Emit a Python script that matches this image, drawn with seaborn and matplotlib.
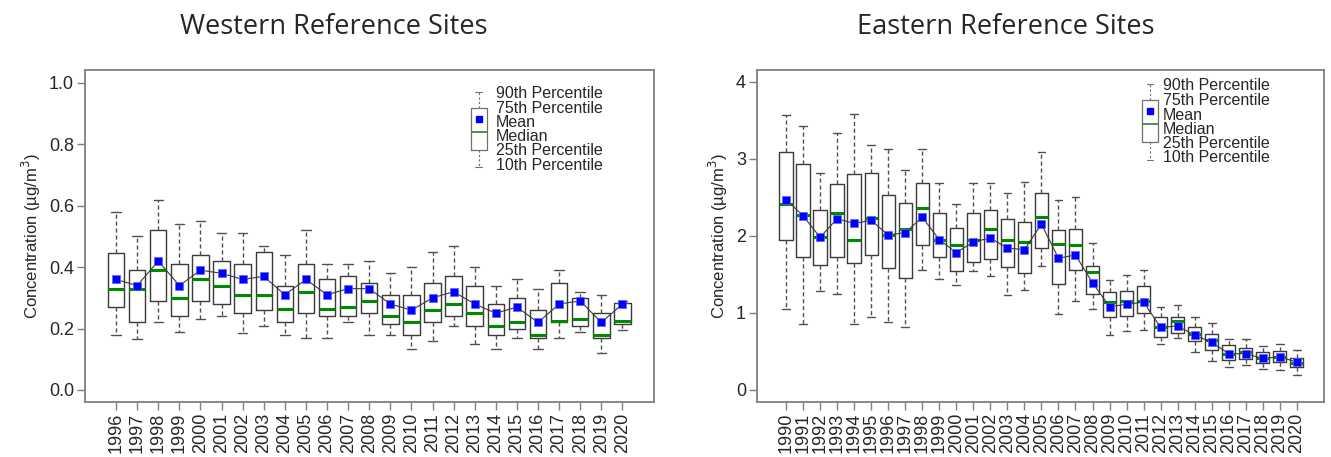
import numpy as np
import pandas as pd
import matplotlib
matplotlib.use('Agg')
import matplotlib.pyplot as plt
import seaborn as sns

# Dane (percentyle i srednie)
west_years = [str(y) for y in range(1996, 2021)]
west_p90 = [0.58, 0.50, 0.62, 0.54, 0.55, 0.51, 0.51, 0.47, 0.44, 0.52, 0.41, 0.41, 0.42,
            0.38, 0.40, 0.45, 0.47, 0.40, 0.34, 0.36, 0.33, 0.39, 0.32, 0.31, 0.29]
west_p75 = [0.445, 0.39, 0.52, 0.41, 0.44, 0.42, 0.41, 0.45, 0.34, 0.41, 0.36, 0.37, 0.35,
            0.31, 0.31, 0.35, 0.37, 0.34, 0.28, 0.30, 0.26, 0.35, 0.30, 0.25, 0.284]
west_mean = [0.36, 0.34, 0.42, 0.34, 0.39, 0.38, 0.36, 0.37, 0.31, 0.36, 0.31, 0.33, 0.33,
             0.28, 0.26, 0.30, 0.32, 0.28, 0.25, 0.27, 0.22, 0.28, 0.29, 0.22, 0.28]
west_median = [0.33, 0.33, 0.39, 0.30, 0.36, 0.34, 0.31, 0.31, 0.265, 0.32, 0.265, 0.27, 0.29,
               0.24, 0.22, 0.26, 0.28, 0.25, 0.21, 0.22, 0.18, 0.225, 0.23, 0.18, 0.225]
west_p25 = [0.27, 0.22, 0.29, 0.24, 0.29, 0.28, 0.25, 0.26, 0.22, 0.25, 0.24, 0.24, 0.25,
            0.215, 0.18, 0.22, 0.24, 0.21, 0.18, 0.20, 0.17, 0.22, 0.21, 0.17, 0.215]
west_p10 = [0.18, 0.165, 0.22, 0.19, 0.23, 0.24, 0.185, 0.21, 0.18, 0.17, 0.17, 0.22, 0.18,
            0.18, 0.135, 0.16, 0.21, 0.15, 0.135, 0.17, 0.135, 0.17, 0.19, 0.12, 0.195]

east_years = [str(y) for y in range(1990, 2021)]
east_p90 = [3.57, 3.42, 2.82, 3.33, 3.58, 3.18, 3.12, 2.85, 3.12, 2.69, 2.41, 2.69, 2.69, 2.56,
            2.70, 3.08, 2.46, 2.50, 1.90, 1.42, 1.49, 1.55, 1.07, 1.10, 0.95, 0.87, 0.66, 0.66,
            0.57, 0.60, 0.52]
east_p75 = [3.08, 2.93, 2.33, 2.67, 2.80, 2.81, 2.53, 2.42, 2.69, 2.30, 2.10, 2.30, 2.33, 2.22,
            2.18, 2.56, 2.08, 2.09, 1.61, 1.27, 1.28, 1.35, 0.94, 0.95, 0.81, 0.72, 0.58, 0.55,
            0.49, 0.50, 0.42]
east_mean = [2.47, 2.26, 1.98, 2.22, 2.16, 2.20, 2.01, 2.04, 2.24, 1.95, 1.78, 1.92, 1.97, 1.84,
             1.82, 2.15, 1.71, 1.75, 1.39, 1.08, 1.11, 1.14, 0.81, 0.83, 0.71, 0.62, 0.47, 0.47,
             0.41, 0.43, 0.36]
east_median = [2.41, 2.27, 1.98, 2.30, 1.95, 2.23, 2.01, 2.09, 2.36, 1.95, 1.88, 1.94, 2.09, 1.95,
               1.92, 2.24, 1.89, 1.88, 1.53, 1.14, 1.15, 1.15, 0.82, 0.89, 0.73, 0.65, 0.47, 0.49,
               0.41, 0.43, 0.35]
east_p25 = [1.94, 1.73, 1.62, 1.73, 1.65, 1.75, 1.58, 1.45, 1.88, 1.72, 1.54, 1.66, 1.70, 1.59,
            1.52, 1.84, 1.37, 1.55, 1.25, 0.95, 0.96, 1.00, 0.69, 0.74, 0.63, 0.52, 0.39, 0.40,
            0.35, 0.36, 0.30]
east_p10 = [1.05, 0.86, 1.28, 1.25, 0.86, 0.94, 0.88, 0.82, 1.56, 1.44, 1.36, 1.54, 1.48, 1.23,
            1.30, 1.61, 0.99, 1.16, 1.05, 0.71, 0.77, 0.78, 0.59, 0.68, 0.49, 0.38, 0.30, 0.33,
            0.27, 0.26, 0.20]

legend_labels = ['90th Percentile', '75th Percentile', 'Mean', 'Median',
                 '25th Percentile', '10th Percentile']

sns.set_style('white')
plt.rcParams['font.family'] = ['Liberation Sans', 'DejaVu Sans']

BOX_C = '#3a3a3a'
WHISK_C = '#505050'
MED_C = '#008a00'
MEAN_C = '#0000ff'
SPINE_C = '#808080'

box_kw = dict(
    boxprops=dict(color=BOX_C, linewidth=1.0),
    whiskerprops=dict(color=WHISK_C, linewidth=1.0, linestyle=(0, (3, 2))),
    capprops=dict(color=WHISK_C, linewidth=1.0),
    medianprops=dict(color=MED_C, linewidth=2.2),
)


def draw_panel(ax, years, p10, p25, med, mean, p75, p90, ylim, yticks, yfmt, xlim):
    stats = []
    for i in range(len(years)):
        stats.append(dict(label=years[i], whislo=p10[i], q1=p25[i], med=med[i],
                          q3=p75[i], whishi=p90[i], fliers=[]))
    pos = np.arange(len(years))
    ax.bxp(stats, positions=pos, widths=0.78, capwidths=0.45, showfliers=False,
           manage_ticks=False, **box_kw)
    df = pd.DataFrame({'pos': pos, 'mean': mean})
    sns.lineplot(data=df, x='pos', y='mean', ax=ax, color='#3a3a3a', linewidth=0.8,
                 zorder=4)
    sns.scatterplot(data=df, x='pos', y='mean', ax=ax, color=MEAN_C, marker='s', s=30,
                    edgecolor='#6060ff', linewidth=0.5, zorder=5)
    ax.set_xticks(pos)
    ax.set_xticklabels(years, rotation=90, fontsize=13)
    ax.set_xlim(*xlim)
    ax.set_ylim(*ylim)
    ax.set_yticks(yticks)
    ax.set_yticklabels([yfmt.format(v) for v in yticks], fontsize=13)
    ax.set_xlabel('')
    ax.set_ylabel('Concentration (µg/m$^3$)', fontsize=12)
    for s in ax.spines.values():
        s.set_color(SPINE_C)
        s.set_linewidth(1.3)
    ax.tick_params(axis='both', direction='out', length=6, width=1.0, color=SPINE_C,
                   left=True, bottom=True, pad=2)


def draw_legend(ax, gx, tx, ty):
    # mala "ikonka" boxplotu jako legenda
    ins = ax.inset_axes([gx - 0.02, ty[-1] - 0.01, 0.04, ty[0] - ty[-1] + 0.02])
    ins.bxp([dict(whislo=0.0, q1=0.23, med=0.47, q3=0.79, whishi=1.0, fliers=[])],
            positions=[0], widths=0.7, capwidths=0.3, showfliers=False,
            manage_ticks=False,
            boxprops=dict(color='#707070', linewidth=0.9),
            whiskerprops=dict(color='#707070', linewidth=0.8, linestyle=(0, (2, 2))),
            capprops=dict(color='#707070', linewidth=0.8),
            medianprops=dict(color='#3a8a3a', linewidth=1.3))
    ins.plot([0], [0.64], marker='s', color=MEAN_C, markersize=5, linestyle='none')
    ins.set_xlim(-0.5, 0.5)
    ins.set_ylim(-0.02, 1.02)
    ins.axis('off')
    for lab, y in zip(legend_labels, ty):
        ax.text(tx, y, lab, transform=ax.transAxes, fontsize=11.5, va='center', ha='left')


fig = plt.figure(figsize=(13.31, 4.57), dpi=100)
ax1 = fig.add_axes([0.0639, 0.1204, 0.4275, 0.7265])
ax2 = fig.add_axes([0.5688, 0.1204, 0.4260, 0.7265])

draw_panel(ax1, west_years, west_p10, west_p25, west_median, west_mean, west_p75, west_p90,
           (-0.039, 1.042), [0.0, 0.2, 0.4, 0.6, 0.8, 1.0], '{:.1f}', (-1.47, 25.5))
draw_panel(ax2, east_years, east_p10, east_p25, east_median, east_mean, east_p75, east_p90,
           (-0.156, 4.15), [0, 1, 2, 3, 4], '{:d}', (-1.7, 31.6))

draw_legend(ax1, 0.692, 0.722, [0.928, 0.885, 0.841, 0.799, 0.756, 0.712])
draw_legend(ax2, 0.693, 0.716, [0.952, 0.908, 0.864, 0.821, 0.778, 0.735])

fig.text(0.251, 0.94, 'Western Reference Sites', fontsize=19.5, ha='center', va='center',
         family=['Open Sans', 'DejaVu Sans'])
fig.text(0.756, 0.94, 'Eastern Reference Sites', fontsize=19.5, ha='center', va='center',
         family=['Open Sans', 'DejaVu Sans'])

plt.savefig('out.png', dpi=100)
